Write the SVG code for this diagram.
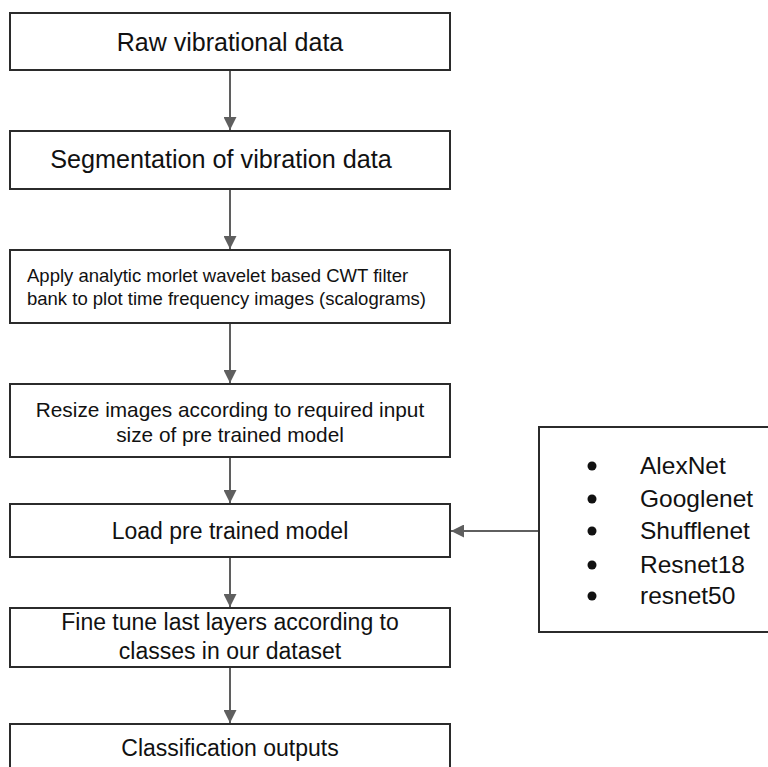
<svg xmlns="http://www.w3.org/2000/svg" width="768" height="767" viewBox="0 0 768 767">
<defs>
<style>
.box{fill:#fff;stroke:#2b2b2b;stroke-width:2}
.t{font-family:"Liberation Sans",Arial,sans-serif;fill:#111;text-anchor:middle}
.l{font-family:"Liberation Sans",Arial,sans-serif;fill:#111;font-size:24.5px}
.c{stroke:#5f5f5f;stroke-width:2;fill:none;marker-end:url(#ah)}
</style>
<marker id="ah" viewBox="0 0 10 10" refX="10" refY="5" markerWidth="15" markerHeight="13" markerUnits="userSpaceOnUse" orient="auto">
<path d="M0,0 L10,5 L0,10 z" fill="#5f5f5f"/>
</marker>
</defs>
<rect width="768" height="767" fill="#fff"/>
<g id="connectors">
<line class="c" x1="230" y1="70" x2="230" y2="130"/>
<line class="c" x1="230" y1="189" x2="230" y2="249"/>
<line class="c" x1="230" y1="323" x2="230" y2="383"/>
<line class="c" x1="230" y1="457" x2="230" y2="503"/>
<line class="c" x1="230" y1="557" x2="230" y2="607"/>
<line class="c" x1="230" y1="667" x2="230" y2="723"/>
<line class="c" x1="539" y1="531" x2="451" y2="531"/>
</g>
<g id="raw">
<rect class="box" x="10" y="13" width="440" height="57"/>
<text class="t" x="230" y="51" font-size="25">Raw vibrational data</text>
</g>
<g id="segmentation">
<rect class="box" x="10" y="131" width="440" height="58"/>
<text class="t" x="221" y="168" font-size="25.2">Segmentation of vibration data</text>
</g>
<g id="cwt">
<rect class="box" x="10" y="250" width="440" height="73"/>
<text font-family="Liberation Sans,Arial,sans-serif" fill="#111" font-size="18.5" x="27" y="282">Apply analytic morlet wavelet based CWT filter</text>
<text font-family="Liberation Sans,Arial,sans-serif" fill="#111" font-size="18.5" x="27" y="305">bank to plot time frequency images (scalograms)</text>
</g>
<g id="resize">
<rect class="box" x="10" y="384" width="440" height="73"/>
<text class="t" x="230" y="417" font-size="20.8">Resize images according to required input</text>
<text class="t" x="230" y="442" font-size="20.8">size of pre trained model</text>
</g>
<g id="load">
<rect class="box" x="10" y="504" width="440" height="53"/>
<text class="t" x="230" y="539" font-size="23">Load pre trained model</text>
</g>
<g id="finetune">
<rect class="box" x="10" y="608" width="440" height="59"/>
<text class="t" x="230" y="630" font-size="23">Fine tune last layers according to</text>
<text class="t" x="230" y="659" font-size="23">classes in our dataset</text>
</g>
<g id="classification">
<rect class="box" x="10" y="724" width="440" height="60"/>
<text class="t" x="230" y="756" font-size="23">Classification outputs</text>
</g>
<g id="models">
<rect class="box" x="539" y="427" width="240" height="205"/>
<g fill="#111">
<circle cx="592" cy="466" r="4.5"/>
<circle cx="592" cy="499" r="4.5"/>
<circle cx="592" cy="531" r="4.5"/>
<circle cx="592" cy="565" r="4.5"/>
<circle cx="592" cy="596" r="4.5"/>
</g>
<text class="l" x="640" y="474">AlexNet</text>
<text class="l" x="640" y="507">Googlenet</text>
<text class="l" x="640" y="539">Shufflenet</text>
<text class="l" x="640" y="573">Resnet18</text>
<text class="l" x="640" y="604">resnet50</text>
</g>
</svg>
